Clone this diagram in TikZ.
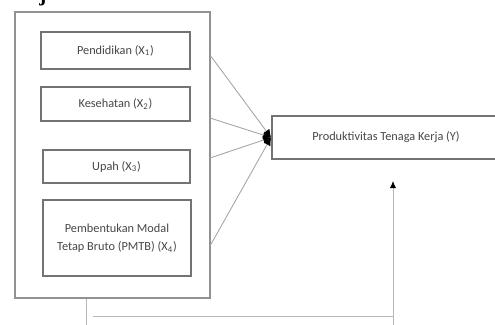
\documentclass[tikz,border=0pt]{standalone}
\usepackage{fontspec}
\setmainfont{Carlito}
\newfontfamily\headfont{Liberation Serif}
\usetikzlibrary{positioning,arrows.meta}

\begin{document}
\begin{tikzpicture}[x=0.02cm,y=-0.02cm, font=\fontsize{7}{8.5}\selectfont,
    varbox/.style={draw=boxGray, line width=1.1pt, text=txtGray, align=center, inner sep=0pt},
    link/.style={draw=lineGray, line width=0.5pt, -{Latex[length=4.5pt,width=4.5pt,color=black]}},
    loopline/.style={draw=loopGray, line width=0.45pt}]
    \definecolor{boxGray}{RGB}{115,115,115}
    \definecolor{outGray}{RGB}{145,145,145}
    \definecolor{lineGray}{RGB}{165,165,165}
    \definecolor{loopGray}{RGB}{185,185,185}
    \definecolor{txtGray}{RGB}{70,70,70}

    \useasboundingbox (0,0) rectangle (495,325);

    \node[anchor=base, font=\headfont\bfseries\fontsize{12}{14}\selectfont] (head) at (43,1.5) {j};

    \node[draw=outGray, line width=0.9pt, minimum width=3.9cm, minimum height=5.72cm] (outer) at (112.5,155) {};

    \node[varbox, minimum width=2.98cm, minimum height=0.74cm] (pend) at (115.5,50.5) {Pendidikan (X\textsubscript{1})};
    \node[varbox, minimum width=2.98cm, minimum height=0.68cm] (kes) at (115.5,104) {Kesehatan (X\textsubscript{2})};
    \node[varbox, minimum width=2.94cm, minimum height=0.66cm] (upah) at (116.5,166.5) {Upah (X\textsubscript{3})};
    \node[varbox, minimum width=2.96cm, minimum height=1.52cm] (pmtb) at (117,238) {Pembentukan Modal\\[2pt] Tetap Bruto (PMTB) (X\textsubscript{4})};

    \node[varbox, minimum width=4.56cm, minimum height=0.86cm] (prod) at (386,137.5) {Produktivitas Tenaga Kerja (Y)};

    % lines from the variable block
    \coordinate (o1) at (210,55);
    \coordinate (o2) at (210,118);
    \coordinate (o3) at (210,158);
    \coordinate (o4) at (210,246);
    \foreach \c in {o1,o2,o3,o4} {\draw[link] (\c) -- (prod.west);}

    % feedback line at the bottom
    \coordinate (b1) at (86,325);
    \coordinate (b2) at (93,316);
    \coordinate (b3) at (393,316);
    \coordinate (b4) at (393,325);
    \coordinate (fb) at (393,181);
    \draw[loopline] (outer.south -| b1) -- (b1);
    \draw[loopline] (b2) -- (b3);
    \draw[loopline, -{Latex[length=4pt,width=3.5pt,color=black]}] (b4) -- (fb);
\end{tikzpicture}
\end{document}
